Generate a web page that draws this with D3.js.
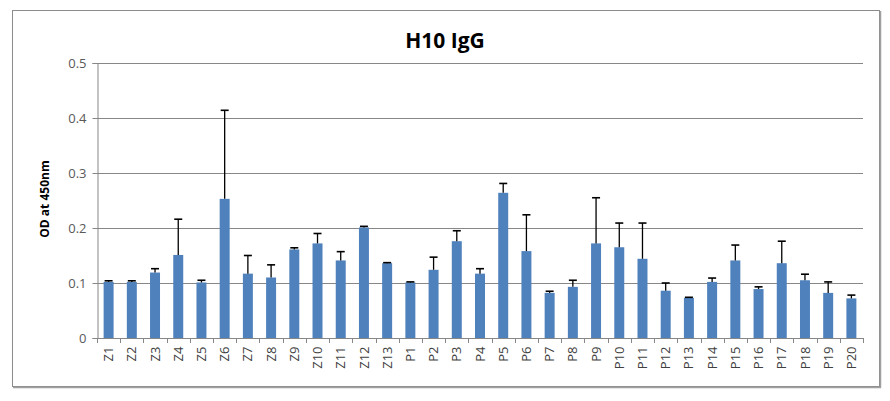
<!DOCTYPE html>
<html><head><meta charset="utf-8">
<script src="https://cdn.jsdelivr.net/npm/d3@7"></script>
<style>body{margin:0;background:#fff;}svg{display:block;}</style>
</head><body>
<script>
const categories = ["Z1","Z2","Z3","Z4","Z5","Z6","Z7","Z8","Z9","Z10","Z11","Z12","Z13","P1","P2","P3","P4","P5","P6","P7","P8","P9","P10","P11","P12","P13","P14","P15","P16","P17","P18","P19","P20"];
const values = [0.102,0.102,0.119,0.151,0.101,0.253,0.117,0.110,0.161,0.172,0.141,0.201,0.136,0.101,0.124,0.176,0.117,0.264,0.158,0.082,0.093,0.172,0.165,0.144,0.086,0.073,0.102,0.141,0.089,0.136,0.105,0.082,0.072];
const errors = [0.002,0.002,0.007,0.065,0.004,0.161,0.033,0.023,0.003,0.018,0.016,0.002,0.001,0.001,0.023,0.019,0.009,0.017,0.066,0.003,0.012,0.083,0.044,0.065,0.014,0.001,0.007,0.028,0.004,0.040,0.011,0.020,0.006];
const yTicks = [0,0.1,0.2,0.3,0.4,0.5];
const title = "H10 IgG";
const yLabel = "OD at 450nm";

const W=890,H=401;
const svg=d3.select("body").append("svg").attr("width",W).attr("height",H);
svg.append("rect").attr("x",12.5).attr("y",10.5).attr("width",867).attr("height",376)
  .attr("fill","#fff").attr("stroke","#8c8c8c").attr("stroke-width",1);
svg.append("line").attr("x1",880.5).attr("x2",880.5).attr("y1",11).attr("y2",387.5).attr("stroke","#a0a0a0").attr("stroke-width",1.5);
svg.append("line").attr("x1",13).attr("x2",881).attr("y1",387.5).attr("y2",387.5).attr("stroke","#a0a0a0").attr("stroke-width",1.5);

const pLeft=97,pRight=863,pTop=63,pBottom=338;
const x=d3.scaleBand().domain(categories).range([pLeft,pRight]).paddingInner(0.57).paddingOuter(0.285);
const y=d3.scaleLinear().domain([0,0.5]).range([pBottom,pTop]);

// gridlines
svg.append("g").selectAll("line").data(yTicks.filter(d=>d>0)).join("line")
  .attr("x1",pLeft).attr("x2",pRight).attr("y1",d=>Math.round(y(d))+0.5).attr("y2",d=>Math.round(y(d))+0.5)
  .attr("stroke","#878787").attr("stroke-width",1);

// y axis
const yAxis=svg.append("g").attr("transform",`translate(${pLeft+0.5},0)`)
  .call(d3.axisLeft(y).tickValues(yTicks).tickFormat(d=>d===0?"0":d3.format(".1f")(d)).tickSize(5).tickPadding(6));
yAxis.select(".domain").attr("stroke","#878787");
yAxis.selectAll(".tick line").attr("stroke","#878787");
yAxis.selectAll("text").attr("fill","#595959").style("font-family","'Open Sans', 'DejaVu Sans', sans-serif").style("font-size","13px");

// bars
svg.append("g").selectAll("rect").data(categories).join("rect")
  .attr("x",d=>x(d)).attr("width",x.bandwidth())
  .attr("y",(d,i)=>y(values[i])).attr("height",(d,i)=>pBottom-y(values[i]))
  .attr("fill","#4f81bd");

// error bars
const eg=svg.append("g").attr("stroke","#000").attr("stroke-width",1.3);
categories.forEach((c,i)=>{
  const cx=x(c)+x.bandwidth()/2;
  const yt=y(values[i]+errors[i]);
  eg.append("line").attr("x1",cx).attr("x2",cx).attr("y1",y(values[i])).attr("y2",yt);
  eg.append("line").attr("x1",cx-4).attr("x2",cx+4).attr("y1",yt).attr("y2",yt).attr("stroke-width",1.6);
});

// x axis
const xAxis=svg.append("g").attr("transform",`translate(0,${pBottom+0.5})`)
  .call(d3.axisBottom(x).tickSize(0).tickPadding(0));
xAxis.select(".domain").attr("stroke","#878787").attr("d",`M${pLeft},0H${pRight}`);
const bounds=categories.map(c=>x(c)-x.step()*x.paddingInner()/2).concat([pRight]);
svg.append("g").selectAll("line").data(bounds).join("line")
  .attr("x1",d=>Math.round(d)+0.5).attr("x2",d=>Math.round(d)+0.5).attr("y1",pBottom).attr("y2",pBottom+5)
  .attr("stroke","#878787");
xAxis.selectAll("text")
  .attr("transform","translate(0,8) rotate(-90)")
  .attr("text-anchor","end").attr("dy","0.35em").attr("x",0).attr("y",0)
  .attr("fill","#404040").style("font-family","'Open Sans', 'DejaVu Sans', sans-serif").style("font-size","13px");

// title
svg.append("text").attr("x",445).attr("y",48).attr("text-anchor","middle")
  .style("font-family","'Open Sans', 'DejaVu Sans', sans-serif").style("font-weight","bold").style("font-size","21px")
  .attr("fill","#000").text(title);
// y label
svg.append("text").attr("transform","translate(49,199) rotate(-90)").attr("text-anchor","middle")
  .style("font-family","'Open Sans', 'DejaVu Sans', sans-serif").style("font-weight","bold").style("font-size","12px")
  .attr("fill","#000").text(yLabel);
</script>
</body></html>
